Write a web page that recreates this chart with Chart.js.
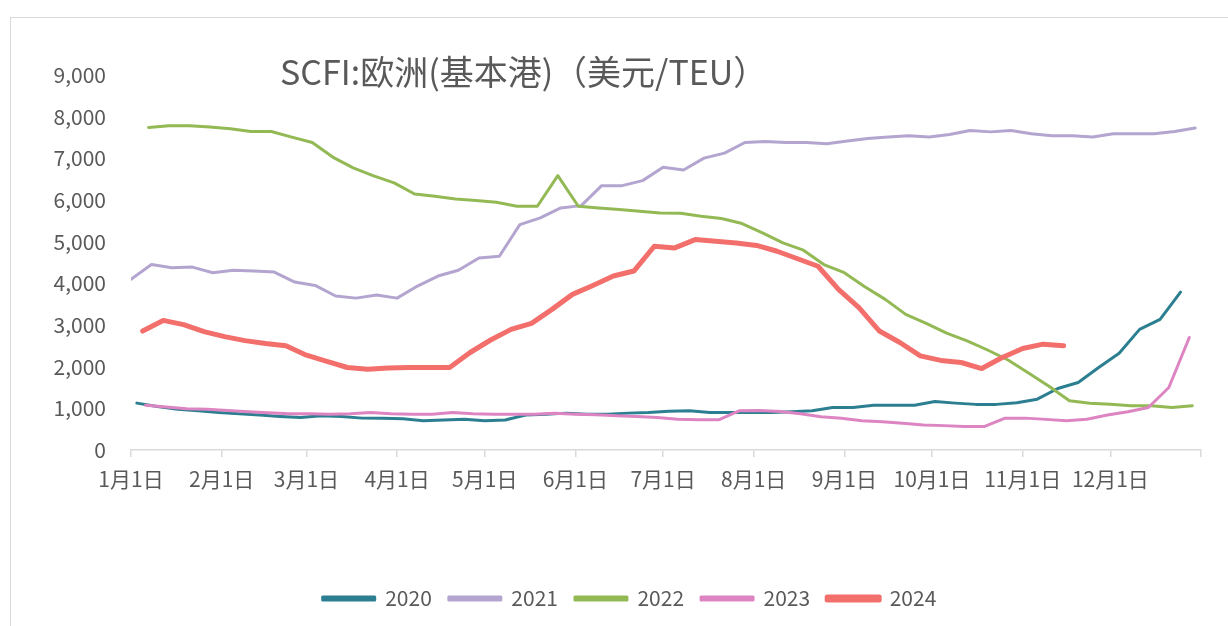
<!DOCTYPE html>
<html>
<head>
<meta charset="utf-8">
<script src="https://cdn.jsdelivr.net/npm/chart.js@4.4.1/dist/chart.umd.min.js"></script>
<style>
  html, body { margin: 0; padding: 0; background: #fff; }
  #wrap { position: relative; width: 1228px; height: 626px; overflow: hidden; }
  #frame { position: absolute; left: 10px; top: 17px; width: 1300px; height: 700px;
           border-top: 1.5px solid #d9d9d9; border-left: 1.5px solid #d9d9d9; }
  #title { position: absolute; left: 280px; top: 51px; font: 34px "Noto Sans CJK SC", sans-serif;
           line-height: 40px; color: #595959; white-space: nowrap; }
  canvas { position: absolute; left: 0; top: 0; }
</style>
</head>
<body>
<div id="wrap">
  <div id="frame"></div>
  <canvas id="chart" width="1228" height="626"></canvas>
  <div id="title">SCFI:欧洲(基本港)（美元/TEU）</div>
</div>
<script>
// month starts, day-of-year
const monthDays = [0, 31, 60, 91, 121, 152, 182, 213, 244, 274, 305, 335, 366];
const monthLabels = ['1月1日', '2月1日', '3月1日', '4月1日', '5月1日', '6月1日',
  '7月1日', '8月1日', '9月1日', '10月1日', '11月1日', '12月1日', ''];

// weekly SCFI, first Friday of each year (day of year)
const years = ['2020', '2021', '2022', '2023', '2024'];
const firstDay = [2, 0, 6, 5, 4];

const s2020 = [1125, 1045, 980, 940, 900, 870, 840, 805, 780, 820, 805, 765, 760, 750, 700, 720, 740, 700, 720, 840,
  860, 885, 860, 860, 885, 900, 930, 940, 900, 900, 900, 900, 920, 940, 1020, 1020, 1075, 1075, 1075, 1165,
  1125, 1095, 1095, 1135, 1220, 1475, 1620, 1980, 2320, 2895, 3135, 3790];
const s2021 = [4095, 4450, 4375, 4390, 4255, 4315, 4295, 4270, 4030, 3950, 3695, 3645, 3720, 3645, 3935, 4175, 4315, 4610, 4650, 5410,
  5570, 5810, 5865, 6345, 6345, 6465, 6785, 6720, 7005, 7125, 7380, 7405, 7380, 7380, 7350, 7415, 7475, 7510, 7540, 7510,
  7570, 7670, 7635, 7670, 7590, 7540, 7540, 7510, 7590, 7590, 7590, 7645, 7730];
const s2022 = [7740, 7780, 7780, 7750, 7710, 7645, 7645, 7510, 7380, 7030, 6770, 6580, 6410, 6145, 6090, 6025, 5990, 5945, 5850, 5850,
  6585, 5850, 5810, 5770, 5730, 5690, 5680, 5610, 5555, 5435, 5210, 4970, 4795, 4450, 4255, 3920, 3615, 3255, 3040, 2805,
  2620, 2400, 2160, 1850, 1530, 1180, 1120, 1100, 1060, 1060, 1020, 1060];
const s2023 = [1075, 1030, 990, 980, 950, 920, 895, 870, 870, 860, 870, 900, 870, 860, 860, 900, 870, 860, 860, 860,
  880, 860, 845, 820, 805, 780, 740, 725, 725, 940, 950, 925, 870, 800, 760, 700, 680, 640, 600, 585,
  565, 565, 765, 765, 735, 700, 740, 840, 920, 1020, 1500, 2700];
const s2024 = [2855, 3110, 3010, 2840, 2720, 2625, 2555, 2500, 2275, 2125, 1980, 1940, 1970, 1980, 1980, 1980, 2340, 2640, 2895, 3040,
  3375, 3735, 3950, 4175, 4295, 4890, 4850, 5050, 5010, 4970, 4910, 4770, 4590, 4410, 3855, 3415, 2855, 2580, 2260, 2150,
  2100, 1955, 2220, 2435, 2540, 2500];

const series = [s2020, s2021, s2022, s2023, s2024];
const colors = ['#2C7F91', '#B3A5CF', '#93B955', '#DD85C2', '#F36F6C'];
const widths = [3, 3, 3, 3, 5];

const textColor = '#595959';
const fontFamily = '"Noto Sans CJK SC", "Liberation Sans", sans-serif';

const datasets = series.map((vals, k) => ({
  label: years[k],
  data: vals.map((v, i) => ({ x: firstDay[k] + 7 * i, y: v })),
  borderColor: colors[k],
  backgroundColor: colors[k],
  borderWidth: widths[k],
  pointRadius: 0,
  tension: 0,
  borderJoinStyle: 'round',
  borderCapStyle: 'round',
  order: 5 - k
}));

// legend sits a bit right of the canvas centre in the original
const legendShift = {
  id: 'legendShift',
  afterLayout(chart) {
    chart.legend.left += 29;
    chart.legend.right += 29;
  }
};

new Chart(document.getElementById('chart'), {
  type: 'line',
  data: { datasets },
  plugins: [legendShift],
  options: {
    responsive: false,
    animation: false,
    layout: { padding: { left: 0, right: 27, top: 75, bottom: 7 } },
    scales: {
      x: {
        type: 'linear',
        min: 0,
        max: 366,
        afterBuildTicks: (scale) => { scale.ticks = monthDays.map(v => ({ value: v })); },
        afterFit: (scale) => { scale.height = 121; },
        grid: { drawOnChartArea: false, drawTicks: true, tickLength: 7, color: '#d9d9d9', lineWidth: 1.5 },
        border: { display: true, color: '#d9d9d9', width: 1.5 },
        ticks: {
          autoSkip: false,
          maxRotation: 0,
          padding: 9,
          color: textColor,
          font: { family: fontFamily, size: 21 },
          callback: (v, i) => monthLabels[i]
        }
      },
      y: {
        min: 0,
        max: 9000,
        afterFit: (scale) => { scale.width = 131; },
        grid: { display: false },
        border: { display: false },
        ticks: {
          stepSize: 1000,
          padding: 17,
          color: textColor,
          font: { family: fontFamily, size: 21 },
          callback: (v) => v.toLocaleString('en-US')
        }
      }
    },
    plugins: {
      legend: {
        position: 'bottom',
        labels: {
          boxWidth: 52,
          boxHeight: 3,
          padding: 17,
          color: textColor,
          font: { family: fontFamily, size: 21 },
          sort: (a, b) => a.datasetIndex - b.datasetIndex
        }
      },
      tooltip: { enabled: false }
    }
  }
});
</script>
</body>
</html>
